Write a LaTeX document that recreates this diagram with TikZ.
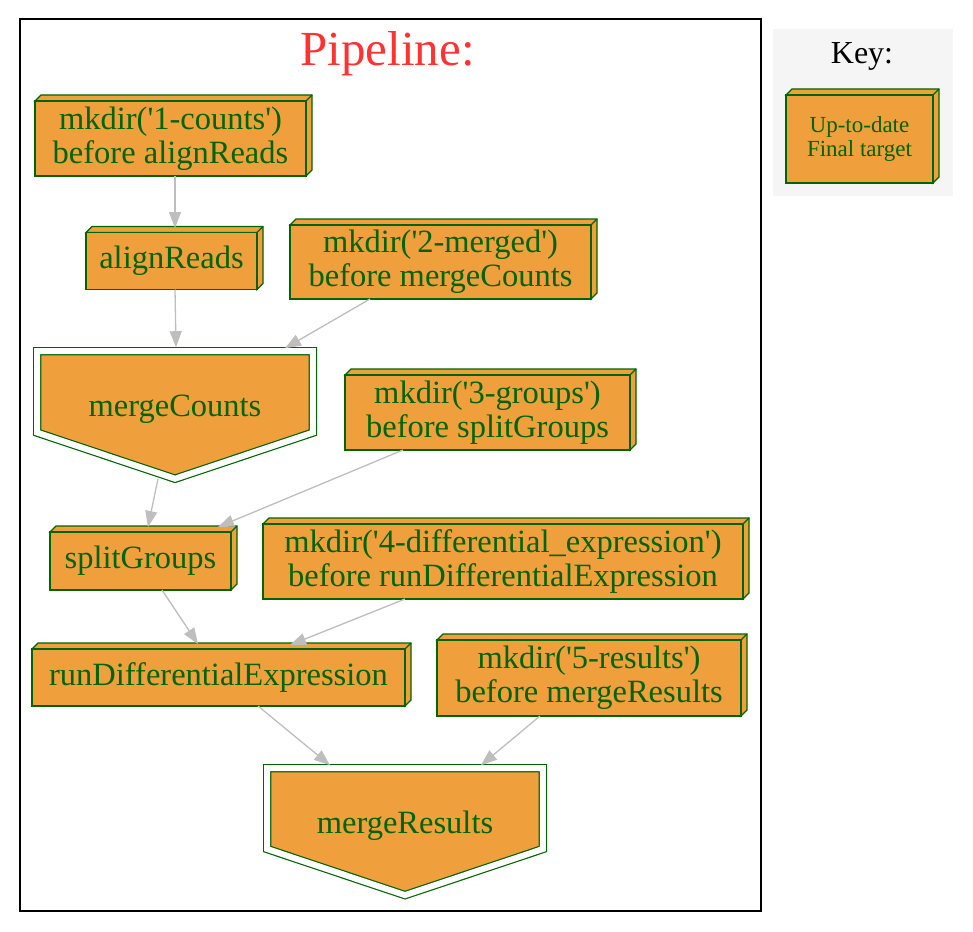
\documentclass[tikz,border=0pt]{standalone}
\usepackage{fontspec}
\setmainfont{Liberation Serif}
\usepackage{tikz}
\usetikzlibrary{positioning,arrows.meta,shapes.symbols}
\definecolor{dgreen}{HTML}{006400}
\definecolor{dorange}{HTML}{EFA03C}
\definecolor{dgray}{HTML}{BEBEBE}
\definecolor{keybg}{HTML}{F6F5F6}
\definecolor{tred}{HTML}{FF3333}
\newcommand{\q}{\textquotesingle}
\tikzset{
  >={Triangle[length=16pt,width=12pt]},
  nodefont/.style={font=\fontsize{32.5}{34}\selectfont},
  keyfont/.style={font=\fontsize{23}{24}\selectfont},
  face/.style={draw=dgreen,fill=dorange,line width=1.2pt,line join=miter},
  box3d/.style={rectangle,face,text=dgreen,align=center,inner sep=2pt,
    outer sep=0pt,nodefont,
    append after command={\pgfextra{\begin{pgfinterruptpath}
      \filldraw[face] (\tikzlastnode.north west) -- ++(6pt,6pt)
        -- ([shift={(6pt,6pt)}]\tikzlastnode.north east)
        -- ([shift={(6pt,6pt)}]\tikzlastnode.south east)
        -- (\tikzlastnode.south east) -- (\tikzlastnode.north east) -- cycle;
      \draw[face] (\tikzlastnode.north east) -- ++(6pt,6pt);
    \end{pgfinterruptpath}}}},
  invhouse/.style={shape=signal,signal to=south,signal from=nowhere,
    signal pointer angle=143,face,double=white,double distance=6pt,
    text=dgreen,nodefont,inner sep=2pt,outer sep=0pt,
    text height=56pt,text depth=7pt,
    minimum width=275.6pt,minimum height=111pt},
  dep/.style={->,draw=dgray,fill=dgray,line width=1.3pt},
}
\begin{document}
\begin{tikzpicture}[x=1pt,y=-1pt]
  \useasboundingbox (0,0) rectangle (973,931);
  % clusters
  \draw[line width=1.3pt] (20,19) rectangle (761,911);
  \fill[keybg] (773,29) rectangle (953,196);
  \node[text=tred,font=\fontsize{49}{50}\selectfont] (title) at (387.5,54) {Pipeline:};
  \node[font=\fontsize{32}{34}\selectfont] (keytitle) at (862,56) {Key:};
  % tasks
  \node[box3d,minimum width=271pt,minimum height=75pt] (mk1) at (170.5,138.5)
    {mkdir(\q1-counts\q)\\before alignReads};
  \node[box3d,minimum width=171pt,minimum height=57pt,below=56.5pt of mk1,
    xshift=1pt] (align) {alignReads};
  \node[box3d,minimum width=301pt,minimum height=74pt] (mk2) at (440.5,262)
    {mkdir(\q2-merged\q)\\before mergeCounts};
  \node[invhouse,anchor=north] (merge) at (175,351.2) {mergeCounts};
  \node[box3d,minimum width=285pt,minimum height=75pt] (mk3) at (487.5,412.5)
    {mkdir(\q3-groups\q)\\before splitGroups};
  \node[box3d,minimum width=181pt,minimum height=58pt] (split) at (140.5,561)
    {splitGroups};
  \node[box3d,minimum width=480pt,minimum height=75pt,right=32pt of split,
    yshift=-0.5pt] (mk4)
    {mkdir(\q4-differential\_expression\q)\\before runDifferentialExpression};
  \node[box3d,minimum width=373pt,minimum height=57pt] (rundiff) at (218.5,677.5)
    {runDifferentialExpression};
  \node[box3d,minimum width=304pt,minimum height=76pt,right=32pt of rundiff,
    yshift=-0.5pt] (mk5) {mkdir(\q5-results\q)\\before mergeResults};
  \node[invhouse,anchor=north] (mres) at (405,768.2) {mergeResults};
  % key
  \node[box3d,keyfont,minimum width=147pt,minimum height=88pt] (keynode)
    at (859.5,139) {Up-to-date\\Final target};
  % dependencies
  \draw[dep] ([xshift=4.5pt]mk1.south) -- ([xshift=3.5pt,yshift=4.5pt]align.north);
  \draw[dep] ([xshift=3.5pt]align.south) -- ([xshift=1pt,yshift=4pt]merge.north);
  \draw[dep] ([xshift=-70.5pt]mk2.south) -- ([xshift=110pt,yshift=3pt]merge.north);
  \draw[dep] ([xshift=-17pt]merge.south) -- ([xshift=7.5pt,yshift=5pt]split.north);
  \draw[dep] ([xshift=-84.5pt]mk3.south) -- ([xshift=77.5pt,yshift=5pt]split.north);
  \draw[dep] ([xshift=21.5pt]split.south) -- ([xshift=-20.5pt,yshift=5pt]rundiff.north);
  \draw[dep] ([xshift=-98pt]mk4.south) -- ([xshift=71.5pt,yshift=4pt]rundiff.north);
  \draw[dep] ([xshift=39.5pt]rundiff.south) -- ([xshift=-75pt,yshift=3pt]mres.north);
  \draw[dep] ([xshift=-49pt]mk5.south) -- ([xshift=76pt,yshift=3pt]mres.north);
\end{tikzpicture}
\end{document}
